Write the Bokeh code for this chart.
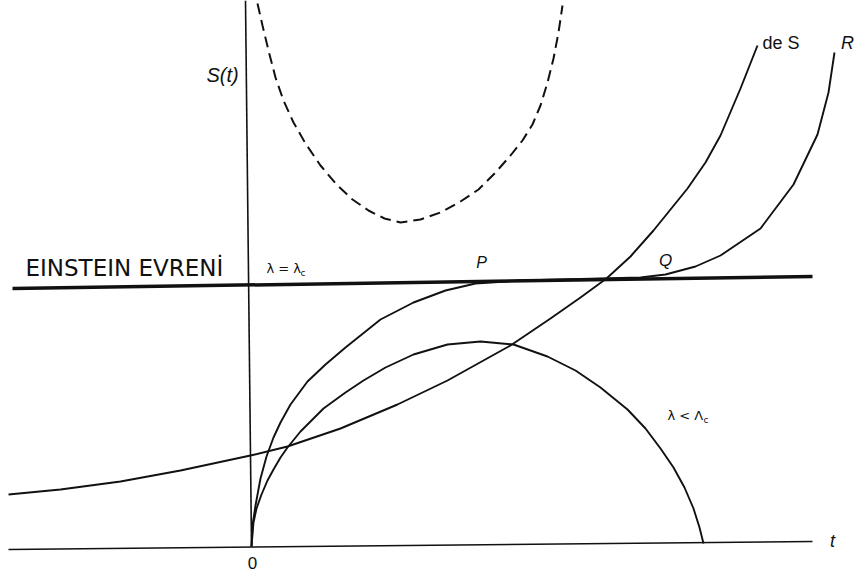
from bokeh.plotting import figure
from bokeh.models import Range1d
from bokeh.core.properties import value
from bokeh.embed import file_html
from bokeh.resources import INLINE

# Scale factor S(t) against cosmic time t for several Lemaitre / Einstein / de Sitter models.
# Units: t in arbitrary time units (origin = big bang), S in arbitrary scale units.

# axes as drawn (slightly tilted hand-drawn lines)
t_axis_t = [-2.42, 5.62]
t_axis_s = [-0.03, 0.05]
s_axis_t = [0.01, -0.05]
s_axis_s = [0.00, 5.46]

# Einstein static universe, S = const
einstein_t = [-2.38, 5.62]
einstein_s = [2.58, 2.70]

# de Sitter-like model, expanding from t -> -infinity
desitter_t = [-2.42, -1.90, -1.30, -0.70, 0.00, 0.37, 0.90, 1.47, 1.97, 2.60,
              3.00, 3.30, 3.56, 3.80, 4.03, 4.37, 4.55, 4.70, 4.90, 5.07]
desitter_s = [0.52, 0.57, 0.65, 0.76, 0.91, 1.00, 1.18, 1.42, 1.66, 2.01,
              2.28, 2.49, 2.68, 2.90, 3.16, 3.58, 3.84, 4.11, 4.58, 5.01]

# Lemaitre model: big bang, coasting near the Einstein value from P to Q, then expansion (R)
lemaitre_t = [0.01, 0.02, 0.05, 0.10, 0.16, 0.23, 0.30, 0.40, 0.57, 0.75, 0.95,
              1.30, 1.63, 1.95, 2.25, 2.70, 3.10, 3.50, 3.90, 4.15, 4.45, 4.70,
              5.10, 5.43, 5.67, 5.78, 5.84]
lemaitre_s = [0.00, 0.21, 0.41, 0.68, 0.90, 1.09, 1.24, 1.42, 1.65, 1.82, 1.99,
              2.27, 2.44, 2.56, 2.63, 2.66, 2.67, 2.68, 2.69, 2.72, 2.80, 2.91,
              3.18, 3.62, 4.12, 4.54, 4.94]

# lambda < lambda_c : expansion followed by recollapse
closed_t = [0.01, 0.03, 0.06, 0.11, 0.17, 0.23, 0.30, 0.37, 0.50, 0.73, 0.95,
            1.13, 1.35, 1.63, 1.97, 2.30, 2.63, 2.97, 3.25, 3.50, 3.77, 3.95,
            4.10, 4.23, 4.34, 4.43, 4.49, 4.53]
closed_s = [0.00, 0.24, 0.38, 0.52, 0.66, 0.77, 0.89, 0.99, 1.15, 1.38, 1.54,
            1.66, 1.79, 1.92, 2.02, 2.05, 2.02, 1.90, 1.76, 1.59, 1.37, 1.18,
            0.98, 0.79, 0.59, 0.38, 0.19, 0.03]

# lambda > lambda_c : contraction then re-expansion (dashed)
bounce_t = [0.07, 0.12, 0.18, 0.25, 0.33, 0.43, 0.55, 0.70, 0.86, 1.02, 1.18,
            1.34, 1.50, 1.70, 1.90, 2.10, 2.28, 2.45, 2.60, 2.72, 2.82, 2.90,
            2.97, 3.03, 3.08, 3.12]
bounce_s = [5.43, 5.21, 4.96, 4.69, 4.46, 4.24, 4.03, 3.81, 3.62, 3.47, 3.36,
            3.28, 3.24, 3.27, 3.34, 3.45, 3.57, 3.74, 3.91, 4.06, 4.22, 4.41,
            4.64, 4.88, 5.14, 5.41]

p = figure(width=860, height=575, output_backend="svg", toolbar_location=None,
           x_range=Range1d(-2.50, 6.10), y_range=Range1d(-0.29, 5.46),
           min_border=0, min_border_left=0, min_border_right=0,
           min_border_top=0, min_border_bottom=0)
p.axis.visible = False
p.grid.visible = False
p.outline_line_color = None
p.background_fill_color = "white"
p.border_fill_color = "white"

ink = "#111111"

p.line(t_axis_t, t_axis_s, line_color=ink, line_width=1.6)
p.line(s_axis_t, s_axis_s, line_color=ink, line_width=1.6)
p.line(einstein_t, einstein_s, line_color=ink, line_width=3.5)
p.line(desitter_t, desitter_s, line_color=ink, line_width=1.9, line_join="round")
p.line(lemaitre_t, lemaitre_s, line_color=ink, line_width=1.9, line_join="round")
p.line(closed_t, closed_s, line_color=ink, line_width=1.9, line_join="round")
p.line(bounce_t, bounce_s, line_color=ink, line_width=2.0, line_dash="11 6")

sans = value("Liberation Sans")

def label(x, y, txt, size, style="normal", align="left", font=sans):
    p.text(x=[x], y=[y], text=[txt], text_font=font, text_font_size=f"{size}px",
           text_font_style=style, text_align=align, text_baseline="middle",
           text_color=ink)

label(-0.28, 4.72, "S(t)", 20, "italic", "center")
label(0.02, -0.16, "0", 17, "normal", "center")
label(5.82, 0.06, "t", 18, "italic", "center")
label(-2.25, 2.79, "EINSTEIN EVRENİ", 23, "normal", "left", value("DejaVu Sans"))
label(0.16, 2.78, "λ = λ", 13, "normal", "left", value("DejaVu Sans"))
label(0.50, 2.74, "c", 9, "normal", "left", value("DejaVu Sans"))
label(2.31, 2.84, "P", 16, "italic", "center")
label(4.15, 2.86, "Q", 17, "italic", "center")
label(5.12, 5.04, "de S", 18, "normal", "left")
label(5.97, 5.04, "R", 18, "italic", "center")
label(4.17, 1.31, "λ < Λ", 13, "normal", "left", value("DejaVu Sans"))
label(4.53, 1.27, "c", 9, "normal", "left", value("DejaVu Sans"))

open("out.html", "w").write(file_html(p, INLINE))
